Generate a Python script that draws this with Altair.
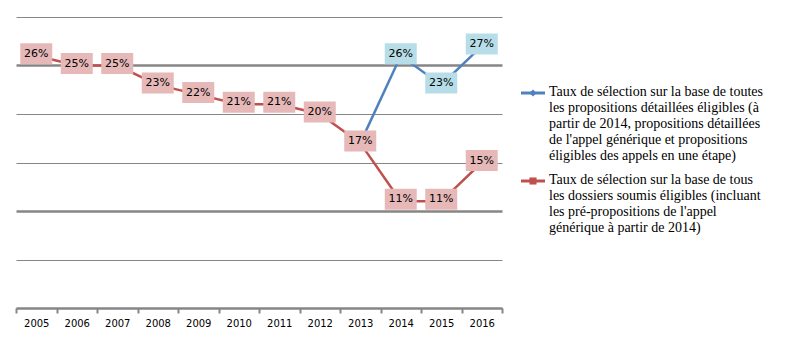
import altair as alt
import pandas as pd

years = [str(y) for y in range(2005, 2017)]
red_values = [26, 25, 25, 23, 22, 21, 21, 20, 17, 11, 11, 15]
blue_years = ["2013", "2014", "2015", "2016"]
blue_values = [17, 26, 23, 27]
blue_labelled = [False, True, True, True]

series_names = ["Toutes propositions détaillées", "Tous dossiers soumis"]
line_colors = ["#4F81BD", "#C0504D"]
box_colors = ["#B7DEE8", "#E6B9B8"]

legend_blue = [
    "Taux de sélection sur la base de toutes",
    "les propositions détaillées éligibles (à",
    "partir de 2014, propositions détaillées",
    "de l'appel générique et propositions",
    "éligibles des appels en une étape)",
]
legend_red = [
    "Taux de sélection sur la base de tous",
    "les dossiers soumis éligibles (incluant",
    "les pré-propositions de l'appel",
    "générique à partir de 2014)",
]

rows = []
for y, v in zip(years, red_values):
    rows.append({"year": y, "value": v, "series": series_names[1], "label": f"{v}%", "show": True})
for y, v, s in zip(blue_years, blue_values, blue_labelled):
    rows.append({"year": y, "value": v, "series": series_names[0], "label": f"{v}%", "show": s})
df = pd.DataFrame(rows)

x_enc = alt.X(
    "year:O",
    sort=years,
    scale=alt.Scale(type="band", domain=years, paddingInner=0, paddingOuter=0),
    bandPosition=0.5,
    axis=alt.Axis(
        title=None,
        labelAngle=0,
        tickBand="extent",
        domainColor="#868686",
        domainWidth=2.5,
        tickColor="#868686",
        tickWidth=2,
        tickSize=5,
        labelFont="DejaVu Sans",
        labelFontSize=10,
        labelColor="#000000",
        labelPadding=5,
        grid=False,
    ),
)
y_enc = alt.Y(
    "value:Q",
    scale=alt.Scale(domain=[0, 30], nice=False, zero=True),
    axis=alt.Axis(
        title=None,
        labels=False,
        ticks=False,
        domain=False,
        values=[0, 5, 10, 15, 20, 25, 30],
        grid=True,
        gridColor="#868686",
        gridWidth=alt.condition("datum.value == 25 || datum.value == 10", alt.value(2.7), alt.value(1)),
    ),
)

base = alt.Chart(df)
labelled = base.transform_filter("datum.show")

lines = base.mark_line(strokeWidth=2.5).encode(
    x=x_enc,
    y=y_enc,
    color=alt.Color("series:N", scale=alt.Scale(domain=series_names, range=line_colors), legend=None),
    detail="series:N",
)

boxes = labelled.mark_point(
    shape="M-1.6,-1.05L1.6,-1.05L1.6,1.05L-1.6,1.05Z",
    filled=True,
    opacity=1,
    size=400,
    strokeWidth=0,
    yOffset=-2,
).encode(
    x=x_enc,
    y=y_enc,
    fill=alt.Fill("series:N", scale=alt.Scale(domain=series_names, range=box_colors), legend=None),
)

texts = labelled.mark_text(
    font="DejaVu Sans", fontSize=11, color="#000000", yOffset=-2, align="center", baseline="middle"
).encode(x=x_enc, y=y_enc, text="label:N")

# legend
leg_layers = []
leg_y = [76, 164]
leg_text = [legend_blue, legend_red]
leg_shapes = ["diamond", "square"]
for i in range(2):
    ld = pd.DataFrame({"t": ["\n".join(leg_text[i])]})
    c = alt.Chart(ld)
    leg_layers.append(
        c.mark_rule(color=line_colors[i], strokeWidth=3).encode(
            x=alt.value(505), x2=alt.value(529), y=alt.value(leg_y[i])
        )
    )
    leg_layers.append(
        c.mark_point(shape=leg_shapes[i], filled=True, opacity=1, color=line_colors[i], size=50).encode(
            x=alt.value(517), y=alt.value(leg_y[i])
        )
    )
    leg_layers.append(
        c.mark_text(
            font="Liberation Serif",
            fontSize=14,
            color="#000000",
            align="left",
            baseline="top",
            lineBreak="\n",
            lineHeight=16,
        ).encode(text="t:N", x=alt.value(533), y=alt.value(leg_y[i] - 8))
    )

chart = alt.layer(lines, boxes, texts, *leg_layers).properties(
    width=486,
    height=291,
    padding={"left": 16, "top": 17, "right": 287, "bottom": 30},
    autosize=alt.AutoSizeParams(type="none"),
    background="#ffffff",
).configure_view(stroke=None)

chart.save("out.html", embed_options={"renderer": "svg", "actions": False})
